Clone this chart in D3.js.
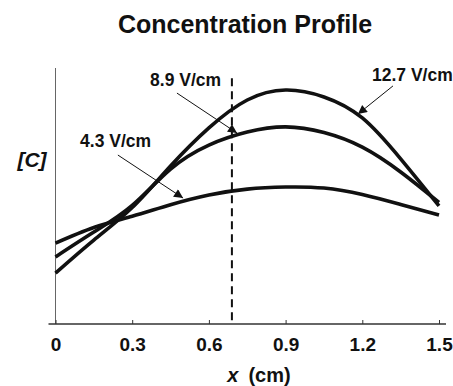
<!DOCTYPE html>
<meta charset="utf-8">
<style>
body { margin: 0; background: #fff; }
text { font-family: "Liberation Sans", Arial, sans-serif; font-weight: bold; fill: #111; }
.curve { fill: none; stroke: #111; stroke-width: 3.6; }
.axis--x path { display: none; }
.axis--x line { stroke: #333; }
</style>
<body>
<svg width="453" height="386"></svg>
<script src="https://d3js.org/d3.v7.min.js"></script>
<script>
// positions along the channel (cm)
var xs = [0, 0.15, 0.3, 0.45, 0.6, 0.75, 0.9, 1.05, 1.2, 1.35, 1.5];
// relative concentration, arbitrary units
var c43  = [0.316, 0.377, 0.421, 0.466, 0.504, 0.527, 0.535, 0.531, 0.506, 0.467, 0.426];
var c89  = [0.262, 0.359, 0.463, 0.605, 0.699, 0.750, 0.770, 0.748, 0.691, 0.594, 0.475];
var c127 = [0.199, 0.328, 0.455, 0.617, 0.766, 0.875, 0.914, 0.887, 0.805, 0.645, 0.461];
var xTicks = [0, 0.3, 0.6, 0.9, 1.2, 1.5];
var xTickLabels = ["0", "0.3", "0.6", "0.9", "1.2", "1.5"];
var markX = 0.69;

// annotation: label, label anchor (x, y), arrow tail, arrow tip
var notes = [
  {label: "8.9 V/cm",  lx: 0.37,  ly: 0.93,  x1: 0.475, y1: 0.902, x2: 0.71,  y2: 0.746},
  {label: "12.7 V/cm", lx: 1.238, ly: 0.949, x1: 1.32,  y1: 0.93,  x2: 1.183, y2: 0.82},
  {label: "4.3 V/cm",  lx: 0.096, ly: 0.691, x1: 0.244, y1: 0.66,  x2: 0.499, y2: 0.492}
];

var svg = d3.select("svg");
var x = d3.scaleLinear().domain([0, 1.5]).range([55.5, 439]),
    y = d3.scaleLinear().domain([0, 1]).range([324, 68]);

svg.append("defs").append("marker")
    .attr("id", "head")
    .attr("viewBox", "0 0 10 10")
    .attr("refX", 10).attr("refY", 5)
    .attr("markerWidth", 12).attr("markerHeight", 9)
    .attr("markerUnits", "userSpaceOnUse")
    .attr("orient", "auto")
  .append("path")
    .attr("d", "M0,0L10,5L0,10z")
    .attr("fill", "#111");

svg.append("text")
    .attr("x", 245).attr("y", 33)
    .attr("text-anchor", "middle")
    .style("font-size", "25px")
    .text("Concentration Profile");

// y axis line (no ticks)
svg.append("line")
    .attr("x1", x(0)).attr("x2", x(0))
    .attr("y1", y(1)).attr("y2", y(0))
    .attr("stroke", "#666").attr("stroke-width", 1);

// x axis
svg.append("line")
    .attr("x1", x(0) - 7).attr("x2", x(1.5) + 7)
    .attr("y1", y(0)).attr("y2", y(0))
    .attr("stroke", "#333").attr("stroke-width", 1.5);

svg.append("g")
    .attr("class", "axis axis--x")
    .attr("transform", "translate(0," + y(0) + ")")
    .call(d3.axisBottom(x).tickValues(xTicks)
      .tickFormat(function(d, i) { return xTickLabels[i]; })
      .tickSizeInner(-4).tickSizeOuter(0).tickPadding(13.5))
  .selectAll("text")
    .style("font-size", "19px")
    .style("font-family", "'Liberation Sans', Arial, sans-serif")
    .style("font-weight", "bold")
    .attr("fill", "#111");

var xl = svg.append("text")
    .attr("x", 259).attr("y", 382)
    .attr("text-anchor", "middle")
    .style("font-size", "20px");
xl.append("tspan").style("font-style", "italic").text("x");
xl.append("tspan").attr("dx", 10).text("(cm)");

svg.append("text")
    .attr("x", 32).attr("y", 167)
    .attr("text-anchor", "middle")
    .style("font-size", "21px")
    .style("font-style", "italic")
    .text("[C]");

// dashed marker line
svg.append("line")
    .attr("x1", x(markX)).attr("x2", x(markX))
    .attr("y1", y(0.96)).attr("y2", y(0))
    .attr("stroke", "#111").attr("stroke-width", 2)
    .attr("stroke-dasharray", "8,5");

var line = d3.line()
    .x(function(d) { return x(d[0]); })
    .y(function(d) { return y(d[1]); })
    .curve(d3.curveNatural);

[c43, c89, c127].forEach(function(s) {
  svg.append("path")
      .attr("class", "curve")
      .attr("d", line(xs.map(function(v, i) { return [v, s[i]]; })));
});

notes.forEach(function(n) {
  svg.append("line")
      .attr("x1", x(n.x1)).attr("y1", y(n.y1))
      .attr("x2", x(n.x2)).attr("y2", y(n.y2))
      .attr("stroke", "#111").attr("stroke-width", 1)
      .attr("marker-end", "url(#head)");
  svg.append("text")
      .attr("x", x(n.lx)).attr("y", y(n.ly))
      .style("font-size", "17.5px")
      .text(n.label);
});
</script>
</body>
